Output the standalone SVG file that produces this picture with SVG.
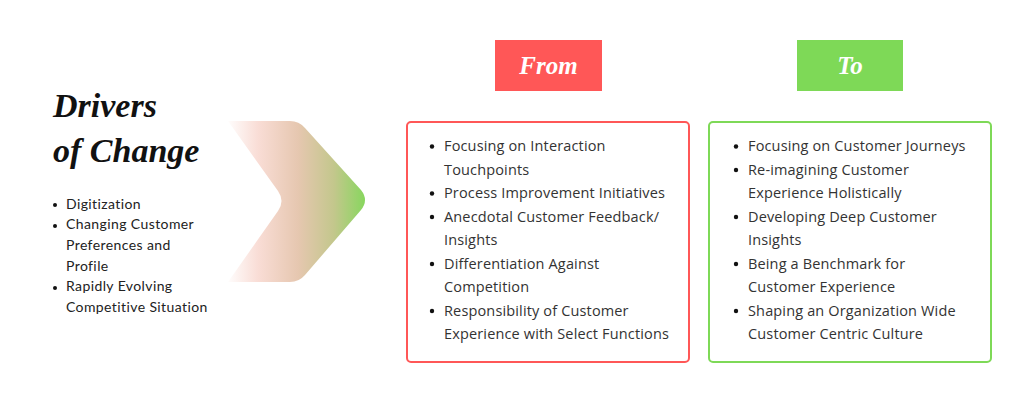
<svg xmlns="http://www.w3.org/2000/svg" width="1024" height="404" viewBox="0 0 1024 404">
<defs>
<linearGradient id="chev" x1="226" y1="0" x2="370" y2="0" gradientUnits="userSpaceOnUse">
<stop offset="0" stop-color="#ffffff"/>
<stop offset="0.22" stop-color="#f9ddd6"/>
<stop offset="0.5" stop-color="#e6c7b0"/>
<stop offset="0.75" stop-color="#c3c78c"/>
<stop offset="1" stop-color="#7ed957"/>
</linearGradient>
</defs>
<style>
.title{font-family:"Liberation Serif",serif;font-weight:bold;font-style:italic;font-size:34px;fill:#111}
.hdr{font-family:"Liberation Serif",serif;font-weight:bold;font-style:italic;font-size:25px;fill:#fff}
.lt{font-family:Lato,"Liberation Sans",sans-serif;font-size:14px;letter-spacing:0.4px;fill:#222}
.bt{font-family:"Open Sans","Liberation Sans",sans-serif;font-size:14.5px;letter-spacing:0.15px;fill:#333}
.dot{fill:#111}
</style>
<rect width="1024" height="404" fill="#ffffff"/>
<g id="drivers">
<text class="title" x="53" y="117">Drivers</text>
<text class="title" x="53" y="162">of Change</text>
<circle class="dot" cx="55" cy="205" r="2"/>
<circle class="dot" cx="55" cy="226" r="2"/>
<circle class="dot" cx="55" cy="288" r="2"/>
<text class="lt" x="66" y="208.5">Digitization</text>
<text class="lt" x="66" y="229.3">Changing Customer</text>
<text class="lt" x="66" y="250">Preferences and</text>
<text class="lt" x="66" y="270.5">Profile</text>
<text class="lt" x="66" y="291">Rapidly Evolving</text>
<text class="lt" x="66" y="311.7">Competitive Situation</text>
</g>
<g id="connectors">
<path d="M228,121 L290,121 Q299,121 305,128 L361,190 Q369,200 361,210 L305,275 Q299,282 290,282 L228,282 L278,211 Q285,201 278,191 Z" fill="url(#chev)"/>
</g>
<g id="from">
<rect x="495" y="40" width="107" height="51" fill="#ff5757"/>
<text class="hdr" x="548.5" y="74" text-anchor="middle">From</text>
<rect x="407" y="122" width="282" height="240" rx="4" fill="#fff" stroke="#ff5757" stroke-width="2"/>
<circle class="dot" cx="432" cy="146.5" r="2.2"/>
<circle class="dot" cx="432" cy="193.5" r="2.2"/>
<circle class="dot" cx="432" cy="217" r="2.2"/>
<circle class="dot" cx="432" cy="264" r="2.2"/>
<circle class="dot" cx="432" cy="311" r="2.2"/>
<text class="bt" x="444" y="151">Focusing on Interaction</text>
<text class="bt" x="444" y="174.5">Touchpoints</text>
<text class="bt" x="444" y="198">Process Improvement Initiatives</text>
<text class="bt" x="444" y="221.5">Anecdotal Customer Feedback/</text>
<text class="bt" x="444" y="245">Insights</text>
<text class="bt" x="444" y="268.5">Differentiation Against</text>
<text class="bt" x="444" y="292">Competition</text>
<text class="bt" x="444" y="315.5">Responsibility of Customer</text>
<text class="bt" x="444" y="339">Experience with Select Functions</text>
</g>
<g id="to">
<rect x="797" y="40" width="106" height="51" fill="#7ed957"/>
<text class="hdr" x="850" y="74" text-anchor="middle">To</text>
<rect x="709" y="122" width="282" height="240" rx="4" fill="#fff" stroke="#7ed957" stroke-width="2"/>
<circle class="dot" cx="736" cy="146.5" r="2.2"/>
<circle class="dot" cx="736" cy="170" r="2.2"/>
<circle class="dot" cx="736" cy="217" r="2.2"/>
<circle class="dot" cx="736" cy="264" r="2.2"/>
<circle class="dot" cx="736" cy="311" r="2.2"/>
<text class="bt" x="748" y="151">Focusing on Customer Journeys</text>
<text class="bt" x="748" y="174.5">Re-imagining Customer</text>
<text class="bt" x="748" y="198">Experience Holistically</text>
<text class="bt" x="748" y="221.5">Developing Deep Customer</text>
<text class="bt" x="748" y="245">Insights</text>
<text class="bt" x="748" y="268.5">Being a Benchmark for</text>
<text class="bt" x="748" y="292">Customer Experience</text>
<text class="bt" x="748" y="315.5">Shaping an Organization Wide</text>
<text class="bt" x="748" y="339">Customer Centric Culture</text>
</g>
</svg>
